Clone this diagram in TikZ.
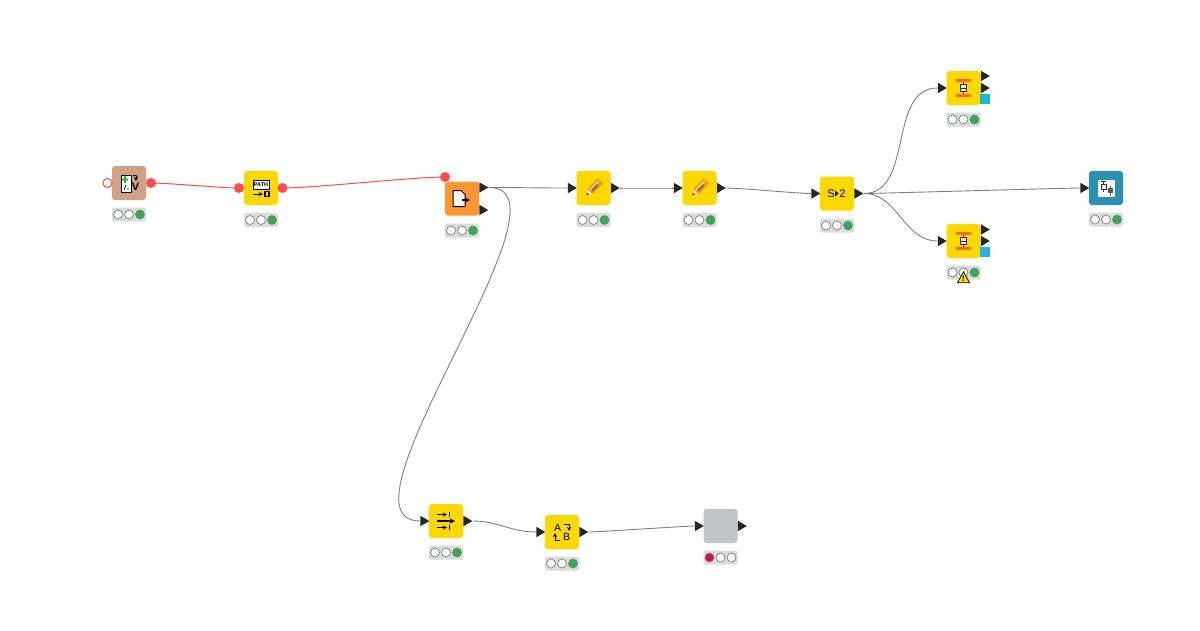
\documentclass[tikz,border=0pt]{standalone}
\usepackage{fontspec}
\setmainfont{Liberation Sans}
\usetikzlibrary{shapes.geometric}
\definecolor{corBege}{HTML}{D1A184}
\definecolor{corAmarelo}{HTML}{FFD800}
\definecolor{corLaranja}{HTML}{FF9632}
\definecolor{corAzul}{HTML}{2A92B0}
\definecolor{corCinza}{HTML}{C0C4C6}
\definecolor{corBarra}{HTML}{DBDDDD}
\definecolor{corVerde}{HTML}{2FAE4E}
\definecolor{corRubi}{HTML}{D50F4F}
\definecolor{corFluxo}{HTML}{FF4B4B}
\definecolor{corCiano}{HTML}{1FB6DC}
\tikzset{
	caixa/.style={rectangle,rounded corners=3pt,minimum size=34pt,inner sep=0pt,fill=#1},
	saida/.style={isosceles triangle,isosceles triangle stretches,shape border rotate=0,minimum width=10.5pt,minimum height=9pt,inner sep=0pt,xshift=-1.2pt,fill=black!85},
	fluxo/.style={circle,minimum size=10pt,inner sep=0pt,fill=corFluxo},
	tabela/.style={rectangle,minimum size=10pt,inner sep=0pt,fill=corCiano},
	barra/.style={rectangle,rounded corners=1.5pt,minimum width=34pt,minimum height=14pt,inner sep=0pt,fill=corBarra},
	luz/.style={circle,minimum size=9pt,inner sep=0pt,draw=black!50,line width=0.7pt,fill=#1},
	fio/.style={draw=black!50,line width=0.9pt},
	fiovermelho/.style={draw=corFluxo,line width=1pt},
	letra/.style={inner sep=0pt,font=\fontsize{#1}{#1}\selectfont},
	traco/.style={line width=1pt,-stealth}
}
\newcommand{\lapis}[1]{ %icone de lapis
	\begin{scope}[shift={(#1)},rotate=45]
		\fill[orange!90!yellow] (-5,-3.4) rectangle (10,3.4);
		\fill[yellow!45!white] (-4,-1.8) rectangle (9,-0.4);
		\fill[black!55] (-3,-0.4) rectangle (5,1.6);
		\fill[orange!25!white] (-5,-3.4) -- (-10,0) -- (-5,3.4) -- cycle;
		\fill[black!80] (-10,0) -- (-8,-1.4) -- (-8,1.4) -- cycle;
	\end{scope}
}
\newcommand{\extrator}[1]{ %icone de extrator
	\begin{scope}[shift={(#1)}]
		\fill[corLaranja!70!red] (-7.5,-9) rectangle (7.5,-6);
		\fill[corLaranja!70!red] (-7.5,6) rectangle (7.5,9);
		\draw[black!80,line width=0.8pt,fill=black!10] (-3,-3.5) rectangle (3,3.5);
		\draw[black!80,line width=0.8pt] (-3,0) -- (3,0) (0,-6) -- (0,-3.5) (0,3.5) -- (0,6);
	\end{scope}
}
\begin{document}
\begin{tikzpicture}[x=1pt,y=-1pt]
	\useasboundingbox (0,0) rectangle (1200,630);
	%Nos
	\node[caixa=corBege] (leitor) at (129,183) {};
	\node[caixa=corAmarelo] (caminho) at (261,188) {};
	\node[caixa=corLaranja] (saidaarq) at (462,198.5) {};
	\node[caixa=corAmarelo] (lapisum) at (593.5,188) {};
	\node[caixa=corAmarelo] (lapisdois) at (699.5,188) {};
	\node[caixa=corAmarelo] (divisor) at (837,193.5) {};
	\node[caixa=corAmarelo] (extcima) at (963.5,88) {};
	\node[caixa=corAmarelo] (extbaixo) at (963.5,241) {};
	\node[caixa=corAzul] (grafico) at (1106,188) {};
	\node[caixa=corAmarelo] (juntar) at (446,521) {};
	\node[caixa=corAmarelo] (trocar) at (562,532) {};
	\node[caixa=corCinza] (parado) at (720.5,526) {};
	%Portas
	\node[circle,minimum size=9pt,inner sep=0pt,draw=corFluxo,line width=1pt,fill=white] (leitorin) at (107.5,183) {};
	\node[fluxo] (leitorout) at (151,183) {};
	\node[fluxo] (caminhoin) at (239,188) {};
	\node[fluxo] (caminhoout) at (282.5,188) {};
	\node[fluxo] (saidaarqin) at (445,177) {};
	\node[saida] (saidaarqa) at (483.5,187.5) {};
	\node[saida] (saidaarqb) at (483.5,210) {};
	\node[saida] (lapisumin) at (572,188) {};
	\node[saida] (lapisumout) at (615,188) {};
	\node[saida] (lapisdoisin) at (678,188) {};
	\node[saida] (lapisdoisout) at (721,188) {};
	\node[saida] (divisorin) at (815.5,193.5) {};
	\node[saida] (divisorout) at (858.5,193.5) {};
	\node[saida] (extcimain) at (942,88) {};
	\node[saida] (extcimaa) at (985,76) {};
	\node[saida] (extcimab) at (985,88) {};
	\node[tabela] (extcimac) at (985,99) {};
	\node[saida] (extbaixoin) at (942,241) {};
	\node[saida] (extbaixoa) at (985,229.5) {};
	\node[saida] (extbaixob) at (985,241) {};
	\node[tabela] (extbaixoc) at (985,252) {};
	\node[saida] (graficoin) at (1084.5,188) {};
	\node[saida] (juntarin) at (424.5,521) {};
	\node[saida] (juntarout) at (467.5,521) {};
	\node[saida] (trocarin) at (540.5,532) {};
	\node[saida] (trocarout) at (583.5,532) {};
	\node[saida] (paradoin) at (699,526) {};
	\node[saida] (paradoout) at (742,526) {};
	%Ligacoes
	\draw[fiovermelho] (leitorout.center) to[out=0,in=180,looseness=0.5] (caminhoin.center);
	\draw[fiovermelho] (caminhoout.center) to[out=0,in=180,looseness=0.5] (saidaarqin.center);
	\draw[fio] (saidaarqa.apex) to[out=0,in=180] (lapisumin.west);
	\draw[fio] (saidaarqa.apex) .. controls +(95,0) and +(-95,0) .. (juntarin.west);
	\draw[fio] (lapisumout.apex) to[out=0,in=180] (lapisdoisin.west);
	\draw[fio] (lapisdoisout.apex) to[out=0,in=180,looseness=0.4] (divisorin.west);
	\draw[fio] (divisorout.apex) to[out=0,in=180] (extcimain.west);
	\draw[fio] (divisorout.apex) to[out=0,in=180] (extbaixoin.west);
	\draw[fio] (divisorout.apex) to[out=0,in=180,looseness=0.15] (graficoin.west);
	\draw[fio] (juntarout.apex) to[out=0,in=180] (trocarin.west);
	\draw[fio] (trocarout.apex) to[out=0,in=180,looseness=0.2] (paradoin.west);
	%Luzes
	\foreach \nome/\px/\py in {a/129/214.5,b/261/220,c/462/230.5,d/593.5/220,e/699.5/220,f/837/225.5,g/963.5/119.5,h/963.5/272.5,i/1106/219.5,j/446/552.5,k/562/563.5}{
		\node[barra] (bar\nome) at (\px,\py) {};
		\node[luz=white] (um\nome) at (\px-11,\py) {};
		\node[luz=white] (dois\nome) at (\px,\py) {};
		\node[luz=corVerde] (tres\nome) at (\px+11,\py) {};
	}
	\node[barra] (barl) at (720.5,557.5) {};
	\node[luz=corRubi] (uml) at (709.5,557.5) {};
	\node[luz=white] (doisl) at (720.5,557.5) {};
	\node[luz=white] (tresl) at (731.5,557.5) {};
	\node[isosceles triangle,isosceles triangle stretches,shape border rotate=90,minimum width=12pt,minimum height=11pt,inner sep=0pt,fill=corAmarelo,draw=black,line width=0.7pt,font=\fontsize{8}{8}\selectfont\bfseries] (aviso) at (963.5,279) {!};
	%Icones
	\begin{scope}[shift={(leitor)}]
		\draw[black,line width=1pt,fill=white] (-8,-8) rectangle (2,9);
		\fill[corVerde] (-7,-4.5) rectangle (-1,-2.5) (-5,-7) rectangle (-3,0);
		\draw[black,line width=0.7pt] (-5,7) -- (-3,2) (-2,6) -- (0,6);
		\draw[traco] (4,-8) -- (7,-8) -- (7,-2);
		\node[font=\fontsize{11}{11}\selectfont\bfseries,inner sep=0pt] (leitorv) at (6.5,3.5) {V};
	\end{scope}
	\begin{scope}[shift={(caminho)}]
		\node[draw=black,line width=1pt,fill=white,minimum width=16pt,minimum height=9pt,inner sep=0pt,font=\fontsize{5.5}{5.5}\selectfont\bfseries] (caminhotxt) at (0,-3.5) {PATH};
		\draw[traco,line width=1pt] (-8,6) -- (2,6);
		\draw[black,line width=1.2pt] (4,3.5) rectangle (8,8.5);
	\end{scope}
	\begin{scope}[shift={(saidaarq)}]
		\draw[black,line width=1pt,fill=white] (-9,-8) -- (-1,-8) -- (3,-4) -- (3,8) -- (-9,8) -- cycle;
		\draw[traco,line width=1.3pt] (0,1.5) -- (8,1.5);
	\end{scope}
	\lapis{lapisum}
	\lapis{lapisdois}
	\begin{scope}[shift={(divisor)}]
		\node[letra=11] (divisors) at (-6,0) {S};
		\node[letra=11] (divisordois) at (5.5,0) {2};
		\fill[black] (-2,-3) -- (1.5,0) -- (-2,3) -- cycle;
	\end{scope}
	\extrator{extcima}
	\extrator{extbaixo}
	\begin{scope}[shift={(grafico)}]
		\fill[white] (-8,-8) rectangle (9,9);
		\draw[black!80,line width=0.8pt] (-5,-4) rectangle (0,1) (-2.5,-7) -- (-2.5,-4) (-2.5,1) -- (-2.5,4) (-5,-7) -- (0,-7);
		\fill[black!65] (1.5,0) rectangle (6.5,5);
		\draw[black!65,line width=0.8pt] (4,-2) -- (4,8);
	\end{scope}
	\begin{scope}[shift={(juntar)}]
		\draw[traco,line width=0.9pt] (-9,-6.5) -- (1,-6.5);
		\draw[black,line width=0.9pt] (3.5,-9) -- (3.5,-4);
		\draw[traco,line width=1.4pt] (-9,0) -- (9,0);
		\draw[traco,line width=0.9pt] (-9,6.5) -- (1,6.5);
		\draw[black,line width=0.9pt] (3.5,4) -- (3.5,9);
	\end{scope}
	\begin{scope}[shift={(trocar)}]
		\node[letra=10.5] (trocara) at (-4.3,-4.5) {A};
		\node[letra=10.5] (trocarb) at (4.7,5) {B};
		\draw[traco,line width=0.9pt] (2,-8) -- (7,-8) -- (7,-1);
		\draw[traco,line width=0.9pt] (-2,8) -- (-7,8) -- (-7,1);
	\end{scope}
\end{tikzpicture}
\end{document}
